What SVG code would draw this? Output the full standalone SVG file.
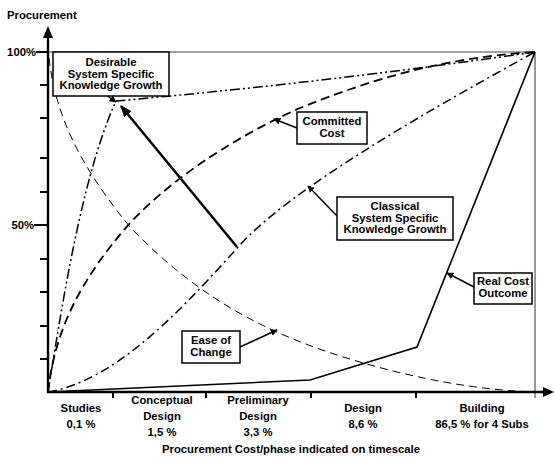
<svg xmlns="http://www.w3.org/2000/svg" width="555" height="457" viewBox="0 0 555 457">
<style>
text{font-family:"Liberation Sans",Arial,sans-serif;font-weight:bold;font-size:11.3px;fill:#000}
.c{text-anchor:middle}
.r{text-anchor:end}
.box{fill:#fff;stroke:#000;stroke-width:1.5}
.lead{stroke:#000;stroke-width:1.5;fill:none;marker-end:url(#ah)}
.crv{fill:none;stroke:#000}
</style>
<defs>
<marker id="ah" viewBox="0 0 10 10" refX="9" refY="5" markerWidth="7" markerHeight="7" markerUnits="userSpaceOnUse" orient="auto"><path d="M0,0L10,5L0,10z" fill="#000"/></marker>
<marker id="ahb" viewBox="0 0 10 10" refX="9" refY="5" markerWidth="12" markerHeight="12" markerUnits="userSpaceOnUse" orient="auto"><path d="M0,1L10,5L0,9z" fill="#000"/></marker>
</defs>
<g id="axes">
<line x1="48" y1="52" x2="535" y2="52" stroke="#808080" stroke-width="1.6"/>
<line x1="535" y1="52" x2="535" y2="398" stroke="#333" stroke-width="1"/>
<line x1="48" y1="393" x2="48" y2="36" stroke="#000" stroke-width="2.4"/>
<path d="M48,26L53,38L43,38z" fill="#000"/>
<line x1="47" y1="392" x2="545" y2="392" stroke="#000" stroke-width="2.4"/>
<path d="M554,392L543,387L543,397z" fill="#000"/>
<g stroke="#000" stroke-width="2">
<line x1="36" y1="52" x2="48" y2="52"/>
<line x1="40" y1="85" x2="48" y2="85"/>
<line x1="40" y1="118" x2="48" y2="118"/>
<line x1="40" y1="158" x2="48" y2="158"/>
<line x1="40" y1="192" x2="48" y2="192"/>
<line x1="34" y1="225" x2="48" y2="225"/>
<line x1="40" y1="259" x2="48" y2="259"/>
<line x1="40" y1="292" x2="48" y2="292"/>
<line x1="40" y1="326" x2="48" y2="326"/>
<line x1="40" y1="359" x2="48" y2="359"/>
<line x1="113" y1="392" x2="113" y2="398"/>
<line x1="206" y1="392" x2="206" y2="398"/>
<line x1="311" y1="392" x2="311" y2="398"/>
<line x1="416" y1="392" x2="416" y2="398"/>
</g>
<text x="7" y="19">Procurement</text>
<text class="r" x="36" y="56">100%</text>
<text class="r" x="34" y="229">50%</text>
<text class="c" x="81" y="412">Studies</text>
<text class="c" x="81" y="428">0,1 %</text>
<text class="c" x="162" y="404">Conceptual</text>
<text class="c" x="162" y="420">Design</text>
<text class="c" x="162" y="436">1,5 %</text>
<text class="c" x="258" y="404">Preliminary</text>
<text class="c" x="258" y="420">Design</text>
<text class="c" x="258" y="436">3,3 %</text>
<text class="c" x="363" y="412">Design</text>
<text class="c" x="363" y="428">8,6 %</text>
<text class="c" x="482" y="412">Building</text>
<text class="c" x="482" y="428">86,5 % for 4 Subs</text>
<text class="c" x="291" y="453">Procurement Cost/phase indicated on timescale</text>
</g>
<g id="connectors">
<path id="ease" class="crv" stroke-width="1" stroke-dasharray="8 5" d="M49,58 C55,110 75,160 130,227 C200,300 270,335 353,360 C420,380 480,390 534,392"/>
<path id="committed" class="crv" stroke-width="1.8" stroke-dasharray="9 5" d="M48,392 C55,330 80,280 130,223 C180,170 250,130 300,108 C370,80 440,58 535,52"/>
<path id="classical" class="crv" stroke-width="1.5" stroke-dasharray="9 4 2 4" d="M48,392 C120,380 190,300 240,245 C290,190 420,115 535,52"/>
<path id="desirable" class="crv" stroke-width="1.5" stroke-dasharray="10 3 2 3 2 3" d="M48,392 C60,320 80,180 116,101 Q330,82 535,52"/>
<path id="realcost" class="crv" stroke-width="1.6" d="M48,392 L310,380 L417,347 L535,52"/>
<line x1="237" y1="247" x2="121" y2="106" stroke="#000" stroke-width="2.5" marker-end="url(#ahb)"/>
<line class="lead" x1="106" y1="95" x2="116" y2="102"/>
<line class="lead" x1="297" y1="128" x2="274" y2="119"/>
<line class="lead" x1="337" y1="216" x2="308" y2="186"/>
<line class="lead" x1="474" y1="287" x2="447" y2="273"/>
<line class="lead" x1="240" y1="347" x2="277" y2="330"/>
</g>
<g id="node-desirable">
<rect class="box" x="53" y="52" width="116" height="44"/>
<text class="c" x="111" y="66">Desirable</text>
<text class="c" x="111" y="78">System Specific</text>
<text class="c" x="111" y="89">Knowledge Growth</text>
</g>
<g id="node-committed">
<rect class="box" x="297" y="112" width="70" height="32"/>
<text class="c" x="332" y="125">Committed</text>
<text class="c" x="332" y="137">Cost</text>
</g>
<g id="node-classical">
<rect class="box" x="337" y="197" width="116" height="43"/>
<text class="c" x="395" y="210">Classical</text>
<text class="c" x="395" y="222">System Specific</text>
<text class="c" x="395" y="233">Knowledge Growth</text>
</g>
<g id="node-realcost">
<rect class="box" x="474" y="273" width="58" height="31"/>
<text class="c" x="503" y="285">Real Cost</text>
<text class="c" x="503" y="297">Outcome</text>
</g>
<g id="node-ease">
<rect class="box" x="182" y="331" width="58" height="32"/>
<text class="c" x="211" y="344">Ease of</text>
<text class="c" x="211" y="356">Change</text>
</g>
</svg>
